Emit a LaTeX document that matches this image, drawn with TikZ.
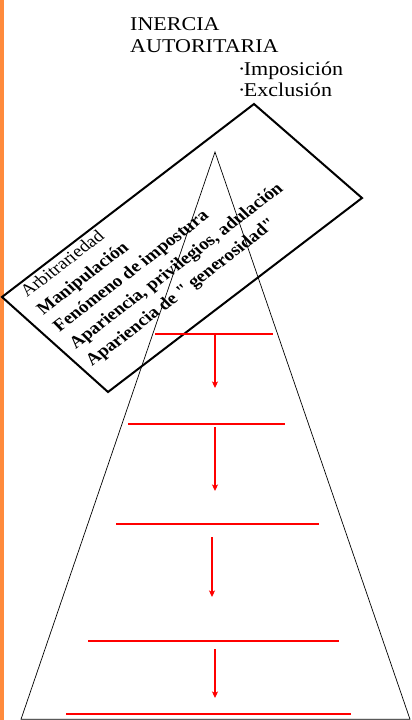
\documentclass[tikz,border=0pt]{standalone}
\usepackage{fontspec}
\setmainfont{Liberation Serif}
\usetikzlibrary{arrows.meta}
\definecolor{barorange}{RGB}{255,138,60}
\tikzset{redlevel/.style={red, line width=1.4pt},
  redarrow/.style={red, line width=1.4pt,
    -{Stealth[length=6.5pt,width=6pt,inset=1.5pt]}},
  toptext/.style={anchor=base west, inner sep=0pt, xscale=1.13,
    font=\fontsize{19.5}{22}\selectfont},
  boxtext/.style={anchor=base west, inner sep=0pt, xscale=1.13, rotate=40.9,
    font=\fontsize{17}{20}\selectfont}}

\begin{document}
\begin{tikzpicture}[x=1pt, y=-1pt]
  \useasboundingbox (0,0) rectangle (412,720);
  % Orange margin on the left.
  \fill[barorange] (0,0) rectangle (3.5,720);
  % Tilted frame round the list.
  \coordinate (frameL) at (2,297);
  \coordinate (frameT) at (254,104);
  \coordinate (frameR) at (362,198);
  \coordinate (frameB) at (108,392);
  \draw[line width=2pt, line join=miter]
    (frameL) -- (frameT) -- (frameR) -- (frameB) -- cycle;
  % Pyramid.
  \coordinate (apex) at (215,152);
  \coordinate (baseL) at (21,719.3);
  \coordinate (baseR) at (410,719.3);
  \draw[line width=0.7pt] (apex) -- (baseL) -- (baseR) -- cycle;
  % Titles above.
  \node[toptext] (inercia) at (130,30) {INERCIA};
  \node[toptext] (autoritaria) at (130,52) {AUTORITARIA};
  \node[toptext] (imposicion) at (238,75) {·\kern-1.5pt Imposición};
  \node[toptext] (exclusion) at (238,96) {·\kern-1.5pt Exclusión};
  % List inside the frame.
  \node[boxtext] (arbitrariedad) at (27,298) {Arbitrariedad};
  \node[boxtext] (manipulacion) at (43.25,315.25) {\bfseries Manipulación};
  \node[boxtext] (impostura) at (59.5,332.5) {\bfseries Fenómeno de impostura};
  \node[boxtext] (privilegios) at (75.75,349.75)
    {\bfseries Apariencia, privilegios, adulación};
  \node[boxtext] (generosidad) at (92,367)
    {\bfseries Apariencia de \textquotedbl\ generosidad\textquotedbl};
  % Red levels of the pyramid.
  \draw[redlevel] (155,334) -- (273,334);
  \draw[redlevel] (128,424) -- (285,424);
  \draw[redlevel] (116,524) -- (319,524);
  \draw[redlevel] (88,641) -- (339,641);
  \draw[redlevel] (66,714) -- (351,714);
  % Arrows between the levels.
  \coordinate (fromA) at (215,334);
  \coordinate (toA) at (215,388);
  \coordinate (fromB) at (215,427);
  \coordinate (toB) at (215,491);
  \coordinate (fromC) at (212,537);
  \coordinate (toC) at (212,597);
  \coordinate (fromD) at (215,649);
  \coordinate (toD) at (215,698);
  \draw[redarrow] (fromA) -- (toA);
  \draw[redarrow] (fromB) -- (toB);
  \draw[redarrow] (fromC) -- (toC);
  \draw[redarrow] (fromD) -- (toD);
\end{tikzpicture}
\end{document}
